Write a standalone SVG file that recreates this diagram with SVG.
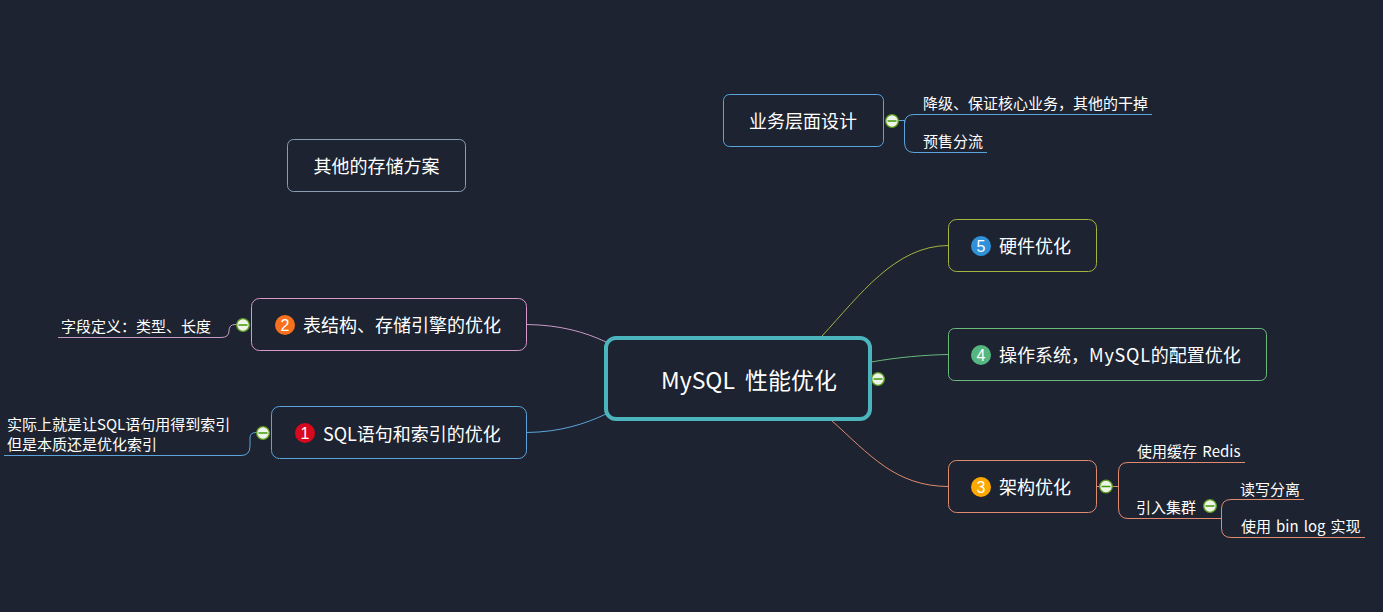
<svg xmlns="http://www.w3.org/2000/svg" width="1383" height="612" viewBox="0 0 1383 612">
<style>
text{font-family:"Noto Sans CJK SC","Noto Sans",sans-serif;fill:#fff}
.t{font-size:18px}
.s{font-size:15px}
.n{fill:#1d2330;stroke-width:1}
.c{fill:none;stroke-width:1}
.b{font-family:"Liberation Sans",sans-serif;font-size:16px;text-anchor:middle}
.tg{fill:#eef4e8;stroke:#5f9e20;stroke-width:1.300}
.tm{stroke:#3f9a0a;stroke-width:1.500}
</style>
<defs>
<g id="tog"><circle class="tg" r="6.300"/><path class="tm" d="M-4.500 0H4.500"/></g>
</defs>
<rect width="1383" height="612" fill="#1d2330"/>
<g id="connectors">
<path class="c" stroke="#c79ac6" d="M527 324.500C560 325 585 332 606 342"/>
<path class="c" stroke="#5ba5dc" d="M527 432.500C560 432 585 424 606 414"/>
<path class="c" stroke="#a3b43f" d="M822 336C860 295 895 246 948 245.500"/>
<path class="c" stroke="#6cb97c" d="M871 362C900 357 925 355 948 354.500"/>
<path class="c" stroke="#e08a6e" d="M831 420C870 455 895 486 948 486.500"/>
<path class="c" stroke="#c79ac6" d="M58 337.500H221Q229 337.500 229 331Q229 324.500 235 324.500H237"/>
<path class="c" stroke="#5ba5dc" d="M4 455.500H241Q250 455.500 250 446V438Q250 432.500 256 432.500H258"/>
<path class="c" stroke="#5ba5dc" d="M898 120.500H904.500M904.500 124Q904.500 114.500 914 114.500H1152M904.500 120V142Q904.500 152.500 914 152.500H987"/>
<g stroke="#e08a6e">
<path class="c" d="M1097 486.500H1100M1112 486.500H1118"/>
<path class="c" d="M1245 462.500H1128Q1118.500 462.500 1118.500 472V508Q1118.500 518.500 1128 518.500H1221"/>
<path class="c" d="M1304 499.500H1231Q1221.500 499.500 1221.500 509V528Q1221.500 537.500 1231 537.500H1365"/>
</g>
</g>
<g id="root"><rect x="606" y="338" width="264" height="81" rx="10" fill="#1d2330" stroke="#4cb4bd" stroke-width="4"/><text x="661" y="389" font-size="23" word-spacing="5">MySQL 性能优化</text><use href="#tog" x="878" y="379"/></g>
<g id="n-other"><rect class="n" stroke="#8a9db0" x="287.500" y="139.500" width="178" height="52" rx="6"/><text class="t" x="313.500" y="173">其他的存储方案</text></g>
<g id="n-biz"><rect class="n" stroke="#5ba5dc" x="723.500" y="94.500" width="160" height="52" rx="6"/><text class="t" x="749" y="128">业务层面设计</text><use href="#tog" x="892" y="121"/></g>
<g id="n-biz-a"><text class="s" x="923" y="109">降级、保证核心业务，其他的干掉</text></g>
<g id="n-biz-b"><text class="s" x="923" y="147">预售分流</text></g>
<g id="n-hw"><rect class="n" stroke="#a3b43f" x="948.500" y="219.500" width="148" height="52" rx="8"/><circle cx="981" cy="246" r="10" fill="#2f92d8"/><text class="b" x="981" y="252">5</text><text class="t" x="999" y="253">硬件优化</text></g>
<g id="n-os"><rect class="n" stroke="#6cb97c" x="948.500" y="328.500" width="318" height="52" rx="6"/><circle cx="981" cy="355" r="10" fill="#55b77f"/><text class="b" x="981" y="361">4</text><text class="t" x="999" y="362">操作系统，<tspan letter-spacing="0.800">MySQL</tspan>的配置优化</text></g>
<g id="n-arch"><rect class="n" stroke="#e08a6e" x="948.500" y="460.500" width="148" height="52" rx="8"/><circle cx="981" cy="487" r="10" fill="#ffa800"/><text class="b" x="981" y="493">3</text><text class="t" x="999" y="494">架构优化</text><use href="#tog" x="1106" y="486.500"/></g>
<g id="n-redis"><text class="s" x="1137" y="457" word-spacing="2">使用缓存 Redis</text></g>
<g id="n-cluster"><text class="s" x="1136" y="513">引入集群</text><use href="#tog" x="1210" y="506"/></g>
<g id="n-rw"><text class="s" x="1240" y="495">读写分离</text></g>
<g id="n-binlog"><text class="s" x="1241" y="532" word-spacing="1.700">使用 bin log 实现</text></g>
<g id="n-table"><rect class="n" stroke="#d79ac8" x="251.500" y="298.500" width="275" height="52" rx="8"/><circle cx="285" cy="325" r="10" fill="#f7701d"/><text class="b" x="285" y="331">2</text><text class="t" x="303" y="332">表结构、存储引擎的优化</text><use href="#tog" x="243" y="325"/></g>
<g id="n-field"><text class="s" x="61" y="332">字段定义：类型、长度</text></g>
<g id="n-sql"><rect class="n" stroke="#5ba5dc" x="271.500" y="406.500" width="255" height="52" rx="8"/><circle cx="305" cy="433" r="10" fill="#d8091f"/><text class="b" x="305" y="439">1</text><text class="t" x="323" y="441">SQL语句和索引的优化</text><use href="#tog" x="263" y="433"/></g>
<g id="n-sql-note"><text class="s" x="7" y="430">实际上就是让SQL语句用得到索引</text><text class="s" x="7" y="450">但是本质还是优化索引</text></g>
</svg>
